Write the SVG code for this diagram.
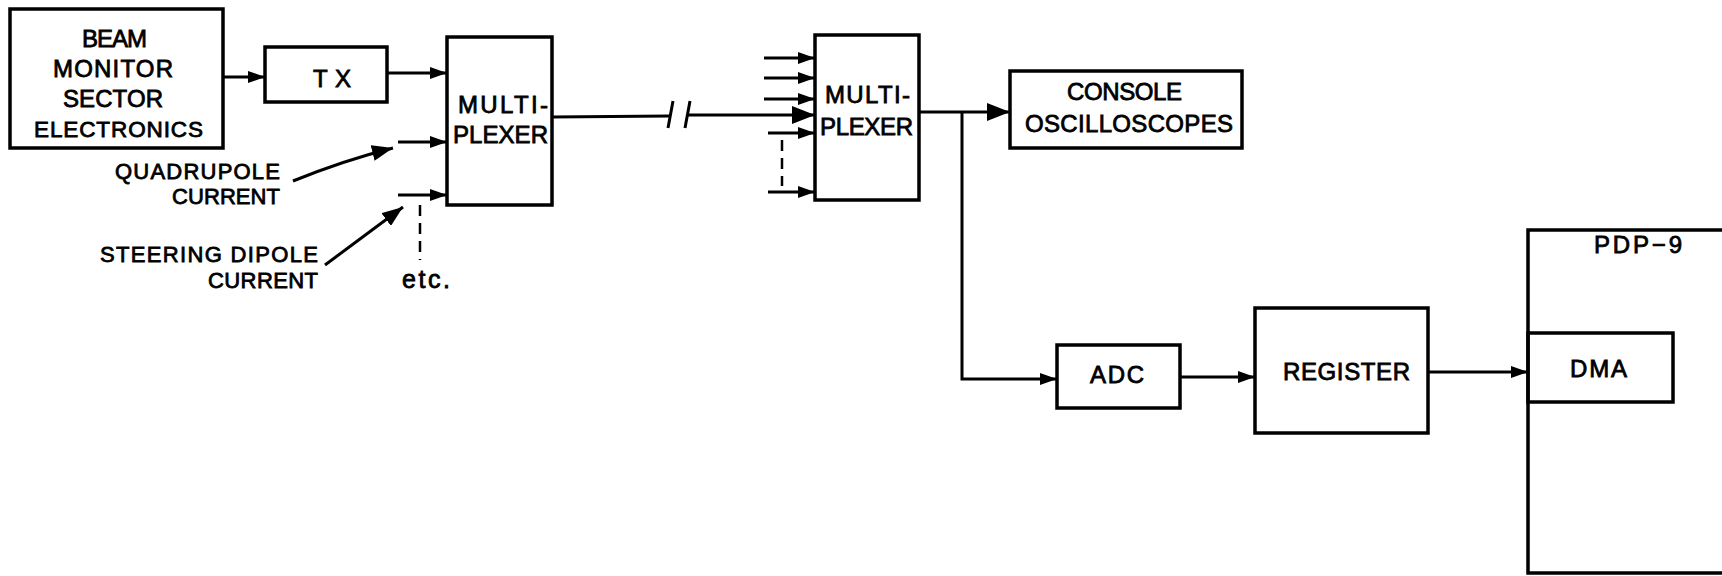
<svg xmlns="http://www.w3.org/2000/svg" width="1722" height="576" viewBox="0 0 1722 576">
<style>
.box{fill:none;stroke:#000;stroke-width:3.5}
.ln{fill:none;stroke:#000;stroke-width:3}
.dash{fill:none;stroke:#000;stroke-width:2.5;stroke-dasharray:11 7}
.t{font-family:"Liberation Sans",Arial,sans-serif;font-size:24px;fill:#000;stroke:#000;stroke-width:0.8}
.s{font-family:"Liberation Sans",Arial,sans-serif;font-size:22px;fill:#000;stroke:#000;stroke-width:0.8}
</style>
<defs>
<marker id="a" markerUnits="userSpaceOnUse" markerWidth="18" markerHeight="12" refX="17" refY="6" orient="auto"><path d="M0,0 L17,6 L0,12 z" fill="#000"/></marker>
<marker id="b" markerUnits="userSpaceOnUse" markerWidth="24" markerHeight="18" refX="23" refY="9" orient="auto"><path d="M0,0 L23,9 L0,18 z" fill="#000"/></marker>
<marker id="c" markerUnits="userSpaceOnUse" markerWidth="22" markerHeight="16" refX="21" refY="8" orient="auto"><path d="M0,0 L21,8 L0,16 z" fill="#000"/></marker>
</defs>
<rect width="1722" height="576" fill="#fff"/>
<g id="beam">
<rect class="box" x="10" y="9" width="213" height="139"/>
<text class="t" x="82" y="47" textLength="65" lengthAdjust="spacing">BEAM</text>
<text class="t" x="53" y="77" textLength="120" lengthAdjust="spacing">MONITOR</text>
<text class="t" x="63" y="107" textLength="100" lengthAdjust="spacing">SECTOR</text>
<text class="t" x="34" y="137" textLength="169" lengthAdjust="spacing" style="font-size:22.5px">ELECTRONICS</text>
</g>
<g id="tx">
<rect class="box" x="265" y="47" width="122" height="55"/>
<text class="t" x="313" y="87" textLength="38" lengthAdjust="spacing">TX</text>
</g>
<g id="mux1">
<rect class="box" x="447" y="37" width="105" height="168"/>
<text class="t" x="458" y="113" textLength="90" lengthAdjust="spacing">MULTI-</text>
<text class="t" x="453" y="143" textLength="95" lengthAdjust="spacing">PLEXER</text>
</g>
<g id="mux2">
<rect class="box" x="815" y="35" width="104" height="165"/>
<text class="t" x="825" y="103" textLength="85" lengthAdjust="spacing">MULTI-</text>
<text class="t" x="820" y="135" textLength="93" lengthAdjust="spacing">PLEXER</text>
</g>
<g id="console">
<rect class="box" x="1010" y="71" width="232" height="77"/>
<text class="t" x="1067" y="100" textLength="115" lengthAdjust="spacing">CONSOLE</text>
<text class="t" x="1025" y="132" textLength="208" lengthAdjust="spacing">OSCILLOSCOPES</text>
</g>
<g id="adc">
<rect class="box" x="1057" y="345" width="123" height="63"/>
<text class="t" x="1090" y="383" textLength="54" lengthAdjust="spacing">ADC</text>
</g>
<g id="register">
<rect class="box" x="1255" y="308" width="173" height="125"/>
<text class="t" x="1283" y="380" textLength="127" lengthAdjust="spacing">REGISTER</text>
</g>
<g id="pdp9">
<path class="box" d="M1722,230 H1528 V573 H1722"/>
<text class="t" x="1594" y="253" textLength="88" lengthAdjust="spacing">PDP−9</text>
</g>
<g id="dma">
<rect class="box" x="1528" y="333" width="145" height="69"/>
<text class="t" x="1570" y="377" textLength="57" lengthAdjust="spacing">DMA</text>
</g>
<g id="labels">
<text class="s" x="115" y="179" textLength="165" lengthAdjust="spacing">QUADRUPOLE</text>
<text class="s" x="172" y="204" textLength="108" lengthAdjust="spacing">CURRENT</text>
<text class="s" x="100" y="262" textLength="218" lengthAdjust="spacing">STEERING DIPOLE</text>
<text class="s" x="208" y="288" textLength="110" lengthAdjust="spacing">CURRENT</text>
<text class="s" x="402" y="288" textLength="48" lengthAdjust="spacing" style="font-size:25px">etc.</text>
</g>
<g id="connectors">
<line class="ln" x1="223" y1="77" x2="265" y2="77" marker-end="url(#a)"/>
<line class="ln" x1="387" y1="73" x2="447" y2="73" marker-end="url(#a)"/>
<line class="ln" x1="398" y1="142" x2="447" y2="142" marker-end="url(#a)"/>
<line class="ln" x1="398" y1="195" x2="447" y2="195" marker-end="url(#a)"/>
<path class="ln" d="M293,181 Q345,160 393,148" marker-end="url(#c)"/>
<path class="ln" d="M325,265 L403,207" marker-end="url(#c)"/>
<line class="dash" x1="420" y1="205" x2="420" y2="260"/>
<line class="ln" x1="552" y1="117" x2="670" y2="116"/>
<path class="ln" d="M673,101 L668,128 M690,101 L685,128"/>
<line class="ln" x1="688" y1="115" x2="815" y2="115" marker-end="url(#b)"/>
<line class="ln" x1="764" y1="58" x2="815" y2="58" marker-end="url(#a)"/>
<line class="ln" x1="764" y1="78" x2="815" y2="78" marker-end="url(#a)"/>
<line class="ln" x1="764" y1="99" x2="815" y2="99" marker-end="url(#a)"/>
<line class="ln" x1="768" y1="133" x2="815" y2="133" marker-end="url(#a)"/>
<line class="ln" x1="768" y1="192" x2="815" y2="192" marker-end="url(#a)"/>
<line class="dash" x1="782" y1="140" x2="782" y2="186"/>
<line class="ln" x1="919" y1="112" x2="1010" y2="112" marker-end="url(#b)"/>
<path class="ln" d="M962,112 V379 H1057" marker-end="url(#a)"/>
<line class="ln" x1="1180" y1="377" x2="1255" y2="377" marker-end="url(#a)"/>
<line class="ln" x1="1428" y1="372" x2="1528" y2="372" marker-end="url(#a)"/>
</g>
</svg>
